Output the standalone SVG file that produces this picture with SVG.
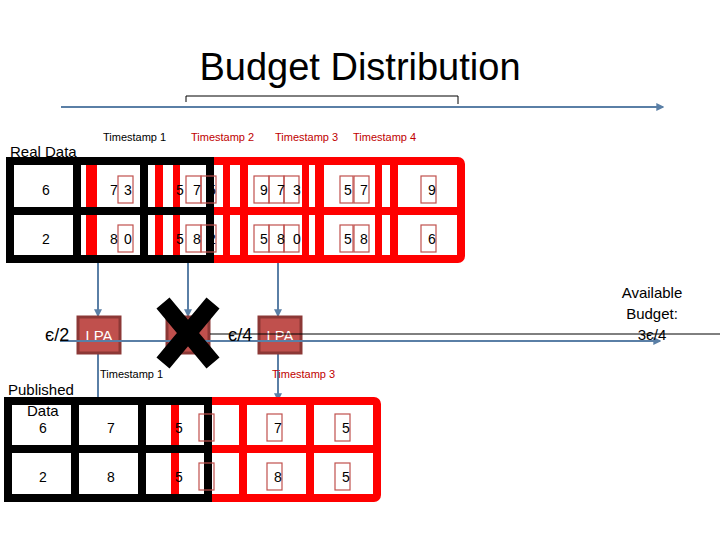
<svg xmlns="http://www.w3.org/2000/svg" width="720" height="540" viewBox="0 0 720 540">
<defs>
<style>
text{font-family:"Liberation Sans",Arial,sans-serif;fill:#000}
.n{font-size:14px;text-anchor:middle}
.ts{font-size:11px}
.red{fill:#c00000}
.bx{fill:none;stroke:#c0504d;stroke-width:1.2}
.rb{fill:#ff0000}
.blk{fill:none;stroke:#000;stroke-width:8}
.rf{fill:none;stroke:#ff0000;stroke-width:8}
.bl{stroke:#5a7fa6;stroke-width:2;fill:none}
.lpa{fill:#c0504d;stroke:#8c3836;stroke-width:3}
</style>
<marker id="a" viewBox="0 0 6 6" refX="5" refY="3" markerWidth="4" markerHeight="4" orient="auto"><path d="M0 0L6 3L0 6z" fill="#5a7fa6"/></marker>
</defs>
<rect width="720" height="540" fill="#fff"/>
<text x="360" y="80" font-size="38" text-anchor="middle">Budget Distribution</text>
<path d="M186 102V96H458V104" stroke="#000" stroke-width="1" fill="none"/>
<line x1="61" y1="107" x2="663" y2="107" class="bl" marker-end="url(#a)"/>
<text x="103" y="141" class="ts">Timestamp 1</text>
<text x="191" y="141" class="ts red">Timestamp 2</text>
<text x="275" y="141" class="ts red">Timestamp 3</text>
<text x="353" y="141" class="ts red">Timestamp 4</text>
<text x="10" y="157" font-size="15">Real Data</text>
<g id="real-data">
<rect x="90" y="161" width="371" height="98" rx="3" class="rf"/>
<line x1="213" y1="211" x2="461" y2="211" stroke="#ff0000" stroke-width="8"/>
<g class="rb">
<rect x="90" y="161" width="7" height="98"/><rect x="155" y="161" width="8" height="98"/><rect x="173" y="161" width="7" height="98"/>
<rect x="223" y="161" width="7" height="98"/><rect x="240" y="161" width="8" height="98"/><rect x="302" y="161" width="7" height="98"/>
<rect x="315" y="161" width="9" height="98"/><rect x="375" y="161" width="7" height="98"/><rect x="390" y="161" width="8" height="98"/>
</g>
<rect x="10" y="161" width="200" height="98" class="blk"/>
<line x1="77" y1="161" x2="77" y2="259" stroke="#000" stroke-width="8"/>
<line x1="144" y1="161" x2="144" y2="259" stroke="#000" stroke-width="8"/>
<line x1="10" y1="211" x2="210" y2="211" stroke="#000" stroke-width="8"/>
<g class="bx">
<rect x="118" y="176" width="15" height="27"/><rect x="186" y="176" width="15" height="27"/><rect x="201" y="176" width="15" height="27"/>
<rect x="254" y="176" width="15" height="27"/><rect x="269" y="176" width="15" height="27"/><rect x="284" y="176" width="15" height="27"/>
<rect x="340" y="176" width="13" height="27"/><rect x="354" y="176" width="15" height="27"/><rect x="421" y="176" width="15" height="27"/>
<rect x="118" y="225" width="15" height="27"/><rect x="186" y="225" width="15" height="27"/><rect x="201" y="225" width="15" height="27"/>
<rect x="254" y="225" width="15" height="27"/><rect x="269" y="225" width="15" height="27"/><rect x="284" y="225" width="15" height="27"/>
<rect x="340" y="225" width="13" height="27"/><rect x="354" y="225" width="15" height="27"/><rect x="421" y="225" width="15" height="27"/>
</g>
<text class="n" x="46" y="195">6</text><text class="n" x="114" y="195">7</text><text class="n" x="128" y="195">3</text>
<text class="n" x="180" y="195">5</text><text class="n" x="197" y="195">7</text><text class="n" x="212" y="195">5</text>
<text class="n" x="264" y="195">9</text><text class="n" x="281" y="195">7</text><text class="n" x="297" y="195">3</text>
<text class="n" x="348" y="195">5</text><text class="n" x="364" y="195">7</text><text class="n" x="432" y="195">9</text>
<text class="n" x="46" y="244">2</text><text class="n" x="114" y="244">8</text><text class="n" x="128" y="244">0</text>
<text class="n" x="180" y="244">5</text><text class="n" x="197" y="244">8</text><text class="n" x="212" y="244">2</text>
<text class="n" x="264" y="244">5</text><text class="n" x="281" y="244">8</text><text class="n" x="297" y="244">0</text>
<text class="n" x="348" y="244">5</text><text class="n" x="364" y="244">8</text><text class="n" x="432" y="244">6</text>
</g>
<g id="connectors">
<line x1="98" y1="263" x2="98" y2="316" class="bl" marker-end="url(#a)"/>
<line x1="188" y1="263" x2="188" y2="316" class="bl" marker-end="url(#a)"/>
<line x1="278" y1="263" x2="278" y2="316" class="bl" marker-end="url(#a)"/>
<line x1="98" y1="353" x2="98" y2="400" class="bl"/>
<line x1="278" y1="353" x2="278" y2="400" class="bl" marker-end="url(#a)"/>
</g>
<g id="lpa1"><rect x="78" y="317" width="42" height="36" class="lpa"/><text x="99" y="341" font-size="15" fill="#fff" text-anchor="middle" style="fill:#fff">LPA</text></g>
<g id="lpa2"><rect x="167" y="317" width="42" height="36" class="lpa"/></g>
<g id="lpa3"><rect x="259" y="317" width="42" height="36" class="lpa"/><text x="280" y="341" font-size="15" text-anchor="middle" style="fill:#fff">LPA</text></g>
<line x1="210" y1="334" x2="720" y2="334" stroke="#000" stroke-width="1"/>
<line x1="60" y1="341" x2="660" y2="341" class="bl" marker-end="url(#a)"/>
<path d="M163 303L213 363M213 303L163 363" stroke="#000" stroke-width="17"/>
<text x="45" y="341" font-size="18">є/2</text>
<text x="228" y="341" font-size="18">є/4</text>
<text x="100" y="378" class="ts">Timestamp 1</text>
<text x="272" y="378" class="ts red">Timestamp 3</text>
<text x="652" y="298" font-size="15" text-anchor="middle">Available</text>
<text x="652" y="319" font-size="15" text-anchor="middle">Budget:</text>
<text x="652" y="340" font-size="15" text-anchor="middle">3є/4</text>
<text x="8" y="395" font-size="15">Published</text>
<text x="27" y="416" font-size="15">Data</text>
<g id="published-data">
<rect x="175" y="401" width="202" height="97" rx="3" class="rf"/>
<line x1="210" y1="449" x2="377" y2="449" stroke="#ff0000" stroke-width="8"/>
<line x1="243" y1="401" x2="243" y2="498" stroke="#ff0000" stroke-width="8"/>
<line x1="310" y1="401" x2="310" y2="498" stroke="#ff0000" stroke-width="8"/>
<rect x="8" y="401" width="200" height="97" class="blk"/>
<line x1="75" y1="401" x2="75" y2="498" stroke="#000" stroke-width="8"/>
<line x1="142" y1="401" x2="142" y2="498" stroke="#000" stroke-width="8"/>
<line x1="8" y1="449" x2="208" y2="449" stroke="#000" stroke-width="8"/>
<g class="bx">
<rect x="199" y="414" width="15" height="27"/><rect x="267" y="414" width="15" height="27"/><rect x="335" y="414" width="15" height="27"/>
<rect x="199" y="463" width="15" height="27"/><rect x="267" y="463" width="15" height="27"/><rect x="335" y="463" width="15" height="27"/>
</g>
<text class="n" x="43" y="433">6</text><text class="n" x="111" y="433">7</text><text class="n" x="179" y="433">5</text><text class="n" x="278" y="433">7</text><text class="n" x="346" y="433">5</text>
<text class="n" x="43" y="482">2</text><text class="n" x="111" y="482">8</text><text class="n" x="179" y="482">5</text><text class="n" x="278" y="482">8</text><text class="n" x="346" y="482">5</text>
</g>
</svg>
